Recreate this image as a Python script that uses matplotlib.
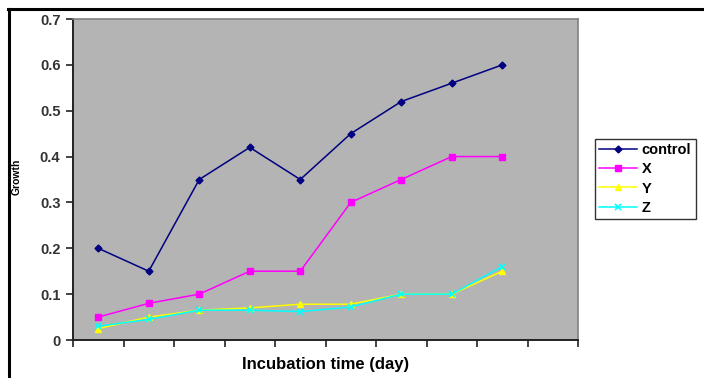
import numpy as np
import matplotlib.pyplot as plt
from matplotlib.lines import Line2D

plt.rcParams['font.family'] = ['Liberation Sans', 'DejaVu Sans']

# data
days = [1, 2, 3, 4, 5, 6, 7, 8, 9]
control = [0.2, 0.15, 0.35, 0.42, 0.35, 0.45, 0.52, 0.56, 0.6]
X = [0.05, 0.08, 0.1, 0.15, 0.15, 0.3, 0.35, 0.4, 0.4]
Y = [0.025, 0.05, 0.065, 0.07, 0.078, 0.078, 0.1, 0.1, 0.15]
Z = [0.03, 0.045, 0.065, 0.065, 0.062, 0.072, 0.1, 0.1, 0.16]
yticks = [0, 0.1, 0.2, 0.3, 0.4, 0.5, 0.6, 0.7]
ytick_labels = ['0', '0.1', '0.2', '0.3', '0.4', '0.5', '0.6', '0.7']

fig = plt.figure(figsize=(7.04, 3.78), dpi=100)
ax = fig.add_axes([73/704, 1-340/378, (578-73)/704, (340-19)/378])
ax.set_facecolor('#b4b4b4')

ax.plot(days, control, color='#000080', marker='D', ms=3.5, lw=1.1, label='control')
ax.plot(days, X, color='#ff00ff', marker='s', ms=5, lw=1.1, label='X')
ax.plot(days, Y, color='#ffff00', marker='^', ms=5, lw=1.1, label='Y')
ax.plot(days, Z, color='#00ffff', marker='x', ms=4, mew=1.2, lw=1.1, label='Z')

ax.set_xlim(0.5, 10.5)
ax.set_ylim(0, 0.7)
ax.set_xticks(np.arange(0.5, 10.6, 1.0))
ax.set_xticklabels([])
ax.set_yticks(yticks)
ax.set_yticklabels(ytick_labels, fontsize=10.5, fontweight='bold', color='#333333')
ax.tick_params(direction='out', length=5, width=1.2, color='#222222', pad=4)

for s in ['left', 'bottom']:
    ax.spines[s].set_color('#222222')
    ax.spines[s].set_linewidth(1.4)
for s in ['top', 'right']:
    ax.spines[s].set_color('#808080')
    ax.spines[s].set_linewidth(1.2)

ax.set_xlabel('Incubation time (day)', fontsize=12, fontweight='bold', labelpad=3)
fig.text(17/704, 1-177/378, 'Growth', rotation=90, fontsize=7.5, fontweight='bold',
         ha='center', va='center')

leg = ax.legend(loc='upper left', bbox_to_anchor=(595/704, 1-139/378),
                bbox_transform=fig.transFigure, frameon=True, fancybox=False,
                prop={'weight': 'bold', 'size': 10.5},
                handlelength=2.6, handletextpad=0.3, labelspacing=0.35,
                borderpad=0.3, borderaxespad=0)
leg.get_frame().set_edgecolor('black')
leg.get_frame().set_linewidth(1.0)

# outer frame lines
fig.add_artist(Line2D([8/704, 1], [1-9/378, 1-9/378], color='black', lw=2.2,
                      transform=fig.transFigure))
fig.add_artist(Line2D([9/704, 9/704], [0, 1-9/378], color='black', lw=2.2,
                      transform=fig.transFigure))

plt.savefig('out.png', dpi=100)
